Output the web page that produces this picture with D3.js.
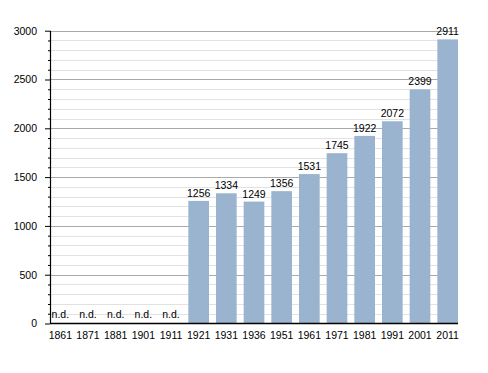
<!DOCTYPE html>
<html>
<head>
<meta charset="utf-8">
<script src="https://cdn.jsdelivr.net/npm/d3@7"></script>
<style>
body{margin:0;background:#fff;}
text{font-family:"Liberation Sans",Arial,sans-serif;font-size:10.5px;fill:#000;}
</style>
</head>
<body>
<div id="chart"></div>
<script>
// census years and population (null = no data)
var years = ['1861','1871','1881','1901','1911','1921','1931','1936','1951','1961','1971','1981','1991','2001','2011'];
var population = [null,null,null,null,null,1256,1334,1249,1356,1531,1745,1922,2072,2399,2911];
var yTicks = [0,500,1000,1500,2000,2500,3000];
var missingLabel = 'n.d.';

var width = 488, height = 373;
var plotLeft = 50, plotRight = 458, plotTop = 30.7, plotBottom = 323.5;

var svg = d3.select('#chart').append('svg')
	.attr('width',width)
	.attr('height',height);

var x = d3.scaleBand().domain(years).range([plotLeft,plotRight]).paddingInner(0.253).paddingOuter(0);
var y = d3.scaleLinear().domain([0,3000]).range([plotBottom,plotTop]);

//minor grid
var minor = d3.range(100,3000,100).filter(function(v){return v%500!=0;});
svg.append('g').selectAll('line').data(minor).enter().append('line')
	.attr('x1',plotLeft).attr('x2',plotRight)
	.attr('y1',function(d){return Math.round(y(d))+0.5;}).attr('y2',function(d){return Math.round(y(d))+0.5;})
	.style('stroke','#e2e2e2').style('stroke-width',1);
//major grid
svg.append('g').selectAll('line').data(yTicks.slice(1)).enter().append('line')
	.attr('x1',plotLeft).attr('x2',plotRight)
	.attr('y1',function(d){return Math.round(y(d))+0.5;}).attr('y2',function(d){return Math.round(y(d))+0.5;})
	.style('stroke','#aaa').style('stroke-width',1);

//bars
svg.append('g').selectAll('rect').data(years).enter().append('rect')
	.filter(function(d,i){return population[i]!=null;})
	.attr('x',function(d){return x(d);})
	.attr('width',x.bandwidth())
	.attr('y',function(d){return y(population[years.indexOf(d)]);})
	.attr('height',function(d){return plotBottom-y(population[years.indexOf(d)]);})
	.style('fill','#9ab3ce');

//value labels
svg.append('g').selectAll('text').data(years).enter().append('text')
	.attr('x',function(d){return x(d)+x.bandwidth()/2;})
	.attr('y',function(d,i){return population[i]==null ? plotBottom-6 : y(population[i])-4;})
	.attr('text-anchor','middle')
	.text(function(d,i){return population[i]==null ? missingLabel : population[i];});

//y axis
var yAxis = d3.axisLeft(y).tickValues(yTicks).tickSize(5).tickPadding(8).tickFormat(d3.format('d'));
var ya = svg.append('g').attr('transform','translate('+plotLeft+',0)').call(yAxis);
ya.select('.domain').remove();
ya.selectAll('text').style('font-size','10.5px').style('font-family','"Liberation Sans",Arial,sans-serif');
ya.selectAll('line').style('stroke','#000');
var yMinor = d3.axisLeft(y).tickValues(minor).tickSize(2).tickFormat('');
var ym = svg.append('g').attr('transform','translate('+plotLeft+',0)').call(yMinor);
ym.select('.domain').remove();
ym.selectAll('line').style('stroke','#000');
svg.append('line').attr('x1',plotLeft+0.5).attr('x2',plotLeft+0.5).attr('y1',plotTop).attr('y2',plotBottom)
	.style('stroke','#000').style('stroke-width',1.2);

//x axis
var xAxis = d3.axisBottom(x).tickSize(0).tickPadding(8);
var xa = svg.append('g').attr('transform','translate(0,'+plotBottom+')').call(xAxis);
xa.select('.domain').remove();
xa.selectAll('text').style('font-size','10.5px').style('font-family','"Liberation Sans",Arial,sans-serif');
svg.append('line').attr('x1',plotLeft).attr('x2',plotRight).attr('y1',plotBottom).attr('y2',plotBottom)
	.style('stroke','#000').style('stroke-width',1.5);
</script>
</body>
</html>
